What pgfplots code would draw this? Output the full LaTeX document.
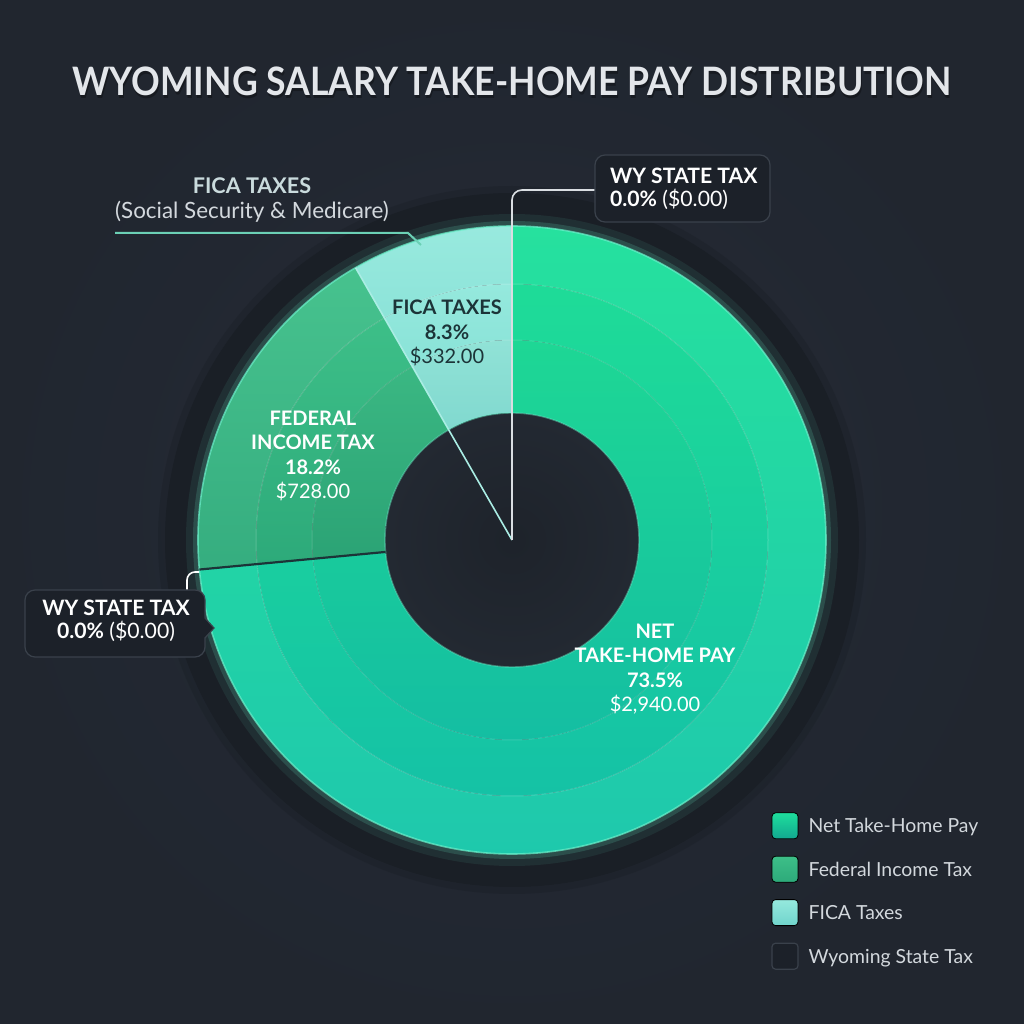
\documentclass[border=0pt]{standalone}
\usepackage{fontspec}
\setmainfont{Lato}
\usepackage{pgfplots}
\usepackage{pgfplotstable}
\pgfplotsset{compat=1.18}

\definecolor{bgc}{HTML}{262C37}
\definecolor{bgedge}{HTML}{1E232B}
\definecolor{haloc}{HTML}{1A1F26}
\definecolor{holec}{HTML}{232932}
\definecolor{titlec}{HTML}{E3E6EA}
\definecolor{txtc}{HTML}{D3D8DD}
\definecolor{boxc}{HTML}{1C2129}
\definecolor{boxedge}{HTML}{3A414B}
\definecolor{nettop}{HTML}{1FE09B}
\definecolor{netbot}{HTML}{15C6A9}
\definecolor{fedtop}{HTML}{3DBF88}
\definecolor{fedbot}{HTML}{2DAA7A}
\definecolor{ficatop}{HTML}{95E9DD}
\definecolor{ficabot}{HTML}{70D4CC}
\definecolor{ficadark}{HTML}{1C3438}
\definecolor{rimc}{HTML}{6CF2CC}

% share of gross pay (percent) and amount (USD)
\pgfplotstableread{
name    pct   amount
Net     73.5  2940
Federal 18.2  728
FICA    8.3   332
State   0.0   0
}\taxdata

\newcommand{\cx}{512}
\newcommand{\cy}{484}
\newcommand{\rin}{127}
\newcommand{\rout}{314}

% annular sector: style, start angle, end angle, inner r, outer r (px)
\newcommand{\sector}[5]{%
  \path[#1] (axis cs:\cx,\cy) ++({#2}:{#5*0.5pt})
    arc[start angle={#2}, end angle={#3}, radius={#5*0.5pt}]
    -- ++({#3+180}:{(#5-#4)*0.5pt})
    arc[start angle={#3}, end angle={#2}, radius={#4*0.5pt}] -- cycle;}

\begin{document}
\begin{tikzpicture}
\pgfplotstablegetelem{0}{pct}\of\taxdata \edef\pNet{\pgfplotsretval}
\pgfplotstablegetelem{1}{pct}\of\taxdata \edef\pFed{\pgfplotsretval}
\pgfplotstablegetelem{2}{pct}\of\taxdata \edef\pFica{\pgfplotsretval}
\pgfplotstablegetelem{3}{pct}\of\taxdata \edef\pState{\pgfplotsretval}
\pgfmathsetmacro{\aA}{90}
\pgfmathsetmacro{\aB}{\aA-3.6*\pNet}
\pgfmathsetmacro{\aC}{\aB-3.6*\pFed}
\pgfmathsetmacro{\aD}{\aC-3.6*\pFica}
\pgfmathsetmacro{\aE}{\aD-3.6*\pState}
\begin{axis}[
    x=0.5pt, y=0.5pt,
    xmin=0, xmax=1024, ymin=0, ymax=1024,
    scale only axis,
    hide axis,
    clip=false,
    legend style={
      at={(axis cs:771,212)}, anchor=north west,
      draw=none, fill=none, inner sep=0pt,
      font=\fontsize{9.7}{12}\selectfont, text=txtc,
      row sep=8.3pt,
      nodes={inner sep=0pt, text depth=0pt},
      /tikz/every odd column/.append style={column sep=5pt},
    },
    legend cell align=left,
  ]
  % background
  \fill[bgc] (axis cs:0,0) rectangle (axis cs:1024,1024);
  \shade[inner color=bgc, outer color=bgedge, opacity=0.6]
    (axis cs:0,0) rectangle (axis cs:1024,1024);

  % dark halo and glow
  \fill[haloc] (axis cs:\cx,\cy) circle[radius=347*0.5pt];
  \draw[haloc, line width=4pt, opacity=0.4] (axis cs:\cx,\cy) circle[radius=350*0.5pt];
  \draw[rimc, line width=8pt, opacity=0.08] (axis cs:\cx,\cy) circle[radius=\rout*0.5pt+2pt];
  \draw[rimc, line width=3pt, opacity=0.16] (axis cs:\cx,\cy) circle[radius=\rout*0.5pt+1pt];

  % Net take-home pay (three bands)
  \sector{top color=nettop!97!white, bottom color=netbot!96!white}{\aA}{\aB}{256}{\rout}
  \sector{top color=nettop!98!black, bottom color=netbot!98!black}{\aA}{\aB}{200}{256}
  \sector{top color=nettop!96!black, bottom color=netbot!96!black}{\aA}{\aB}{\rin}{200}
  % Federal income tax
  \sector{top color=fedtop!95!white, bottom color=fedbot!96!white}{\aB}{\aC}{256}{\rout}
  \sector{top color=fedtop, bottom color=fedbot}{\aB}{\aC}{200}{256}
  \sector{top color=fedtop!96!black, bottom color=fedbot!96!black}{\aB}{\aC}{\rin}{200}
  % FICA taxes
  \sector{top color=ficatop!97!white, bottom color=ficabot}{\aC}{\aD}{256}{\rout}
  \sector{top color=ficatop, bottom color=ficabot}{\aC}{\aD}{200}{256}
  \sector{top color=ficatop!97!black, bottom color=ficabot!97!black}{\aC}{\aD}{\rin}{200}

  % band edges and rim
  \draw[white, line width=0.5pt, opacity=0.18] (axis cs:\cx,\cy) circle[radius=256*0.5pt];
  \draw[white, line width=0.5pt, opacity=0.14] (axis cs:\cx,\cy) circle[radius=200*0.5pt];
  \draw[rimc, line width=0.8pt, opacity=0.7] (axis cs:\cx,\cy) circle[radius=\rout*0.5pt];

  % hole
  \shade[inner color=holec!85!black, outer color=holec] (axis cs:\cx,\cy) circle[radius=\rin*0.5pt];
  \draw[rimc, line width=0.7pt, opacity=0.45] (axis cs:\cx,\cy) circle[radius=\rin*0.5pt];

  % slice boundaries
  \draw[ficadark, line width=1.1pt] (axis cs:\cx,\cy) ++({\aB}:{\rin*0.5pt}) -- ++({\aB}:{(\rout-\rin)*0.5pt});
  \draw[ficatop!80!white, line width=0.8pt] (axis cs:\cx,\cy) -- ++({\aC}:{\rout*0.5pt});

  % callout: WY state tax (top)
  \draw[txtc!85!white, line width=0.8pt, rounded corners=5pt] (axis cs:596,834) -| (axis cs:\cx,\cy);
  \draw[boxedge, fill=boxc, rounded corners=5pt, line width=0.6pt]
    (axis cs:595,802) rectangle (axis cs:770,869);
  \node[anchor=west, align=left, text=white, font=\fontsize{10.6}{11.8}\selectfont]
    at (axis cs:603,835) {\bfseries WY STATE TAX\\{\bfseries 0.0\%} (\$0.00)};

  % callout: WY state tax (left)
  \draw[white, line width=0.8pt, rounded corners=4pt] (axis cs:187,434) |- (axis cs:199,452);
  \draw[boxedge, fill=boxc, rounded corners=5pt, line width=0.6pt]
    (axis cs:25,367) rectangle (axis cs:205,434);
  \fill[boxc] (axis cs:204,406) -- (axis cs:214,396) -- (axis cs:204,386) -- cycle;
  \draw[boxedge, line width=0.6pt] (axis cs:205,406) -- (axis cs:214,396) -- (axis cs:205,386);
  \node[align=center, text=white, font=\fontsize{10.6}{11.8}\selectfont]
    at (axis cs:116,403) {\bfseries WY STATE TAX\\{\bfseries 0.0\%} (\$0.00)};

  % callout: FICA (top left)
  \draw[ficatop!60!fedbot, line width=1pt] (axis cs:115,791) -- (axis cs:408,791) -- (axis cs:421,779);
  \node[align=center, text=txtc, font=\fontsize{11.2}{12.6}\selectfont]
    at (axis cs:252,824) {{\fontsize{10.8}{12.6}\selectfont\bfseries\color{ficatop!15!txtc}FICA TAXES}\\(Social Security \& Medicare)};

  % slice labels
  \node[align=center, text=ficadark, font=\fontsize{10}{12.2}\selectfont]
    at (axis cs:447,691) {\bfseries FICA TAXES\\\bfseries 8.3\%\\\$332.00};
  \node[align=center, text=white, font=\fontsize{10}{12.2}\selectfont]
    at (axis cs:313,568) {\bfseries FEDERAL\\\bfseries INCOME TAX\\\bfseries 18.2\%\\\$728.00};
  \node[align=center, text=white, font=\fontsize{10}{12.2}\selectfont]
    at (axis cs:655,355) {\bfseries NET\\\bfseries TAKE-HOME PAY\\\bfseries 73.5\%\\\$2,940.00};

  % title
  \node[text=black, opacity=0.3, font=\bfseries\fontsize{17.8}{21}\selectfont]
    at (axis cs:513,940) {\scalebox{1}[1.1]{WYOMING SALARY TAKE-HOME PAY DISTRIBUTION}};
  \node[text=titlec, font=\bfseries\fontsize{17.8}{21}\selectfont]
    at (axis cs:512,943) {\scalebox{1}[1.1]{WYOMING SALARY TAKE-HOME PAY DISTRIBUTION}};

  % legend
  \addlegendimage{legend image code/.code={\fill[top color=nettop!90!netbot, bottom color=netbot!85!black, rounded corners=1.8pt] (0pt,-6.5pt) rectangle (13pt,6.5pt);}}
  \addlegendentry{Net Take-Home Pay}
  \addlegendimage{legend image code/.code={\fill[top color=fedtop, bottom color=fedbot, rounded corners=1.8pt] (0pt,-6.5pt) rectangle (13pt,6.5pt);}}
  \addlegendentry{Federal Income Tax}
  \addlegendimage{legend image code/.code={\fill[top color=ficatop, bottom color=ficabot, rounded corners=1.8pt] (0pt,-6.5pt) rectangle (13pt,6.5pt);}}
  \addlegendentry{FICA Taxes}
  \addlegendimage{legend image code/.code={\draw[boxedge, fill=boxc, rounded corners=1.8pt, line width=0.6pt] (0pt,-6.5pt) rectangle (13pt,6.5pt);}}
  \addlegendentry{Wyoming State Tax}
\end{axis}
\end{tikzpicture}
\end{document}
